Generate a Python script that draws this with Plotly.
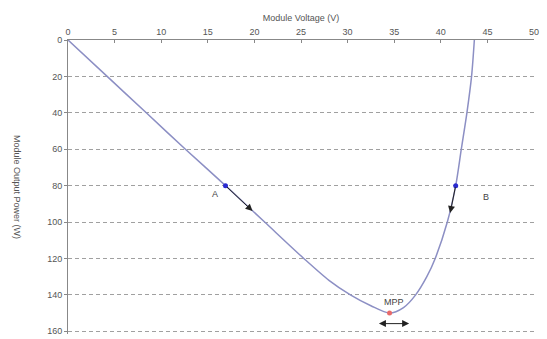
import plotly.graph_objects as go

# P-V curve of the module (voltage in V, power in W)
voltage = [0, 4.2, 8.4, 12.6, 16.9, 21.1, 25.3, 28.0, 30.3, 32.5, 34.5, 36.0, 37.3, 38.5, 39.4, 40.7, 41.6, 42.2, 42.8, 43.3, 43.6]
power = [0, 20, 40, 60, 80, 100, 120, 132, 140, 146, 150, 147, 140, 130, 120, 100, 80, 60, 40, 20, 0]

# operating points
pt_names = ["A", "B"]
pt_v = [16.9, 41.6]
pt_p = [80, 80]
mpp_v = [34.5]
mpp_p = [150]

x_ticks = [0, 5, 10, 15, 20, 25, 30, 35, 40, 45, 50]
y_ticks = [0, 20, 40, 60, 80, 100, 120, 140, 160]

font_family = "Liberation Sans, Arial, sans-serif"
grey = "#555555"

fig = go.Figure()
fig.add_trace(go.Scatter(x=voltage, y=power, mode="lines", line=dict(color="#8c8fc4", width=1.5, shape="spline", smoothing=0.8),
                         showlegend=False, hoverinfo="skip"))
fig.add_trace(go.Scatter(x=pt_v, y=pt_p, mode="markers", marker=dict(color="#2a2ad0", size=5), showlegend=False))
fig.add_trace(go.Scatter(x=mpp_v, y=mpp_p, mode="markers", marker=dict(color="#e86a6a", size=5), showlegend=False))

# arrows
fig.add_annotation(x=19.8, y=94, ax=pt_v[0], ay=pt_p[0], xref="x", yref="y", axref="x", ayref="y",
                   showarrow=True, arrowhead=2, arrowsize=1.4, arrowwidth=1, arrowcolor="#222222", text="")
fig.add_annotation(x=41.0, y=95, ax=pt_v[1], ay=pt_p[1], xref="x", yref="y", axref="x", ayref="y",
                   showarrow=True, arrowhead=2, arrowsize=1.4, arrowwidth=1, arrowcolor="#222222", text="")
fig.add_annotation(x=36.6, y=155.8, ax=33.2, ay=155.8, xref="x", yref="y", axref="x", ayref="y",
                   showarrow=True, arrowhead=2, startarrowhead=2, arrowside="end+start",
                   arrowsize=1.4, startarrowsize=1.4, arrowwidth=1, arrowcolor="#222222", text="")

# labels
fig.add_annotation(x=15.75, y=84.5, text=pt_names[0], showarrow=False, font=dict(size=9, color="#444444", family=font_family))
fig.add_annotation(x=44.8, y=86.5, text=pt_names[1], showarrow=False, font=dict(size=9, color="#444444", family=font_family))
fig.add_annotation(x=35.0, y=143.8, text="MPP", showarrow=False, font=dict(size=9, color="#444444", family=font_family))

# y-axis title (rotated annotation)
fig.add_annotation(x=0, xref="paper", xanchor="center", xshift=-51, y=0.5, yref="paper",
                   text="Module Output Power (W)", textangle=90, showarrow=False,
                   font=dict(size=9, color=grey, family=font_family))

fig.update_layout(
    width=547, height=339,
    margin=dict(l=68, r=13, t=40, b=3),
    paper_bgcolor="white", plot_bgcolor="white",
    font=dict(family=font_family, size=9, color=grey),
    xaxis=dict(range=[0, 50], side="top", tickvals=x_ticks, ticks="inside", ticklen=3, tickcolor="#888888",
               showline=True, linecolor="#888888", linewidth=1, showgrid=False, zeroline=False,
               title=dict(text="Module Voltage (V)", standoff=4, font=dict(size=9, color=grey)),
               tickfont=dict(size=9, color=grey)),
    yaxis=dict(range=[161.5, 0], tickvals=y_ticks, ticks="outside", ticklen=3, tickcolor="#888888",
               showline=True, linecolor="#888888", linewidth=1, showgrid=True, gridcolor="#a0a0a0",
               griddash="4px,3px", gridwidth=1, zeroline=False, tickfont=dict(size=9, color=grey)),
)

fig.write_html("out.html")
